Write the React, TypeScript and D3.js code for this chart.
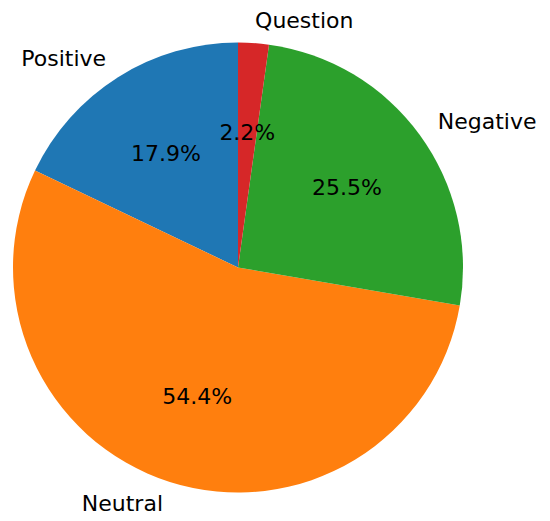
import React, { useEffect, useRef } from 'react';
import * as d3 from 'd3';

const labels = ['Positive', 'Neutral', 'Negative', 'Question'];
const shares = [17.9, 54.4, 25.5, 2.2];
const colors = ['#1f77b4', '#ff7f0e', '#2ca02c', '#d62728'];

const width = 550;
const height = 521;
const cx = 238;
const cy = 267.5;
const radius = 225;

export default function App() {
  const svgRef = useRef<SVGSVGElement>(null);

  useEffect(() => {
    if (!svgRef.current) return;
    const svg = d3.select(svgRef.current);
    svg.selectAll('*').remove();

    const data = labels.map((label, i) => ({ label, value: shares[i], color: colors[i] }));

    // matplotlib style: start at 12 o'clock, go counter-clockwise
    const pie = d3.pie<any>()
      .value(d => d.value)
      .sort(null)
      .startAngle(0)
      .endAngle(-2 * Math.PI);

    const arc = d3.arc<any>().innerRadius(0).outerRadius(radius);
    const arcs = pie(data);

    const g = svg.append('g').attr('transform', `translate(${cx},${cy})`);

    g.selectAll('path')
      .data(arcs)
      .enter()
      .append('path')
      .attr('d', arc)
      .attr('fill', d => d.data.color);

    const font = '"DejaVu Sans", sans-serif';
    const midPos = (d: any, r: number) => {
      const a = (d.startAngle + d.endAngle) / 2;
      return [r * Math.sin(a), -r * Math.cos(a)];
    };

    // category labels at 1.1r
    g.selectAll('.lbl')
      .data(arcs)
      .enter()
      .append('text')
      .attr('class', 'lbl')
      .attr('x', d => midPos(d, radius * 1.1)[0])
      .attr('y', d => midPos(d, radius * 1.1)[1])
      .attr('text-anchor', d => (midPos(d, 1)[0] > 0 ? 'start' : 'end'))
      .attr('dominant-baseline', 'central')
      .attr('font-family', font)
      .attr('font-size', 22)
      .attr('fill', '#000')
      .text(d => d.data.label);

    // percentages at 0.6r
    g.selectAll('.pct')
      .data(arcs)
      .enter()
      .append('text')
      .attr('class', 'pct')
      .attr('x', d => midPos(d, radius * 0.6)[0])
      .attr('y', d => midPos(d, radius * 0.6)[1])
      .attr('text-anchor', 'middle')
      .attr('dominant-baseline', 'central')
      .attr('font-family', font)
      .attr('font-size', 22)
      .attr('fill', '#000')
      .text(d => `${d.data.value.toFixed(1)}%`);
  }, []);

  return (
    <div style={{ position: 'absolute', left: 0, top: 0 }}>
      <svg ref={svgRef} width={width} height={height} style={{ display: 'block', background: '#fff' }} />
    </div>
  );
}
